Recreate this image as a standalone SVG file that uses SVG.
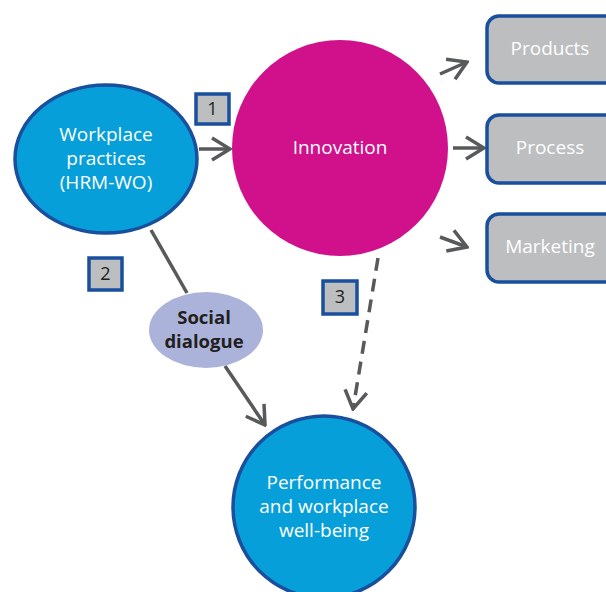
<svg xmlns="http://www.w3.org/2000/svg" width="606" height="592" viewBox="0 0 606 592">
<defs>
<marker id="chev" markerUnits="userSpaceOnUse" viewBox="0 0 22 26" markerWidth="22" markerHeight="26" refX="20" refY="13" orient="auto">
<path d="M2,2 L20,13 L2,24" fill="none" stroke="#58595b" stroke-width="3.5"/>
</marker>
</defs>
<style>
.conn{stroke:#58595b;stroke-width:3.5;fill:none}
.blue{fill:#079fd9;stroke:#1a4f9e;stroke-width:3.5}
.box{fill:#bcbec0;stroke:#1a4f9e;stroke-width:3.5}
.num{fill:#231f20;font-family:"Open Sans","Noto Sans",sans-serif;font-size:18px;text-anchor:middle}
.wt{fill:#ffffff;font-family:"Open Sans","Noto Sans",sans-serif;font-size:19px;text-anchor:middle}
.sd{fill:#231f20;font-family:"Open Sans","Noto Sans",sans-serif;font-size:18.5px;font-weight:bold;text-anchor:middle}
</style>
<rect width="606" height="592" fill="#ffffff"/>
<g id="connectors">
<line class="conn" x1="199" y1="149" x2="230" y2="149" marker-end="url(#chev)"/>
<line class="conn" x1="440" y1="74" x2="467" y2="62" marker-end="url(#chev)"/>
<line class="conn" x1="453" y1="148" x2="484" y2="148" marker-end="url(#chev)"/>
<line class="conn" x1="440" y1="237" x2="467" y2="247" marker-end="url(#chev)"/>
<line class="conn" x1="151" y1="230" x2="187" y2="293"/>
<line class="conn" x1="225" y1="366" x2="265" y2="425" marker-end="url(#chev)"/>
<line class="conn" x1="378" y1="258" x2="353" y2="409" stroke-dasharray="13,8" marker-end="url(#chev)"/>
</g>
<g id="workplace">
<ellipse class="blue" cx="106" cy="159" rx="91" ry="74"/>
<text class="wt" x="106" y="141">Workplace</text>
<text class="wt" x="106" y="165">practices</text>
<text class="wt" x="106" y="189">(HRM-WO)</text>
</g>
<g id="innovation">
<circle cx="340" cy="148" r="108" fill="#d0118b"/>
<text class="wt" x="340" y="154">Innovation</text>
</g>
<g id="products">
<rect class="box" x="487" y="16" width="135" height="67" rx="12"/>
<text class="wt" x="550" y="55">Products</text>
</g>
<g id="process">
<rect class="box" x="487" y="115" width="135" height="68" rx="12"/>
<text class="wt" x="550" y="154">Process</text>
</g>
<g id="marketing">
<rect class="box" x="487" y="214" width="135" height="68" rx="12"/>
<text class="wt" x="550" y="253">Marketing</text>
</g>
<g id="social">
<ellipse cx="206" cy="330" rx="57" ry="38" fill="#abb3da"/>
<text class="sd" x="204" y="324">Social</text>
<text class="sd" x="204" y="348">dialogue</text>
</g>
<g id="performance">
<circle class="blue" cx="324" cy="507" r="91"/>
<text class="wt" x="324" y="489">Performance</text>
<text class="wt" x="324" y="513">and workplace</text>
<text class="wt" x="324" y="537">well-being</text>
</g>
<g id="label1">
<rect class="box" x="196" y="94" width="33" height="30"/>
<text class="num" x="212.5" y="115">1</text>
</g>
<g id="label2">
<rect class="box" x="89" y="258" width="33" height="32"/>
<text class="num" x="105.5" y="280">2</text>
</g>
<g id="label3">
<rect class="box" x="323" y="281" width="34" height="33"/>
<text class="num" x="340" y="303">3</text>
</g>
</svg>
